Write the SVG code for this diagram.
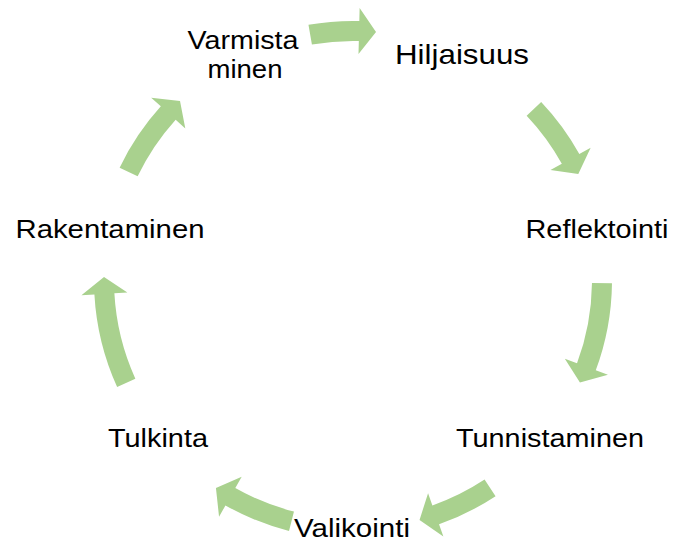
<svg xmlns="http://www.w3.org/2000/svg" width="673" height="542" viewBox="0 0 673 542">
<style>
.lbl{font-family:"Liberation Sans",Arial,sans-serif;font-size:26px;fill:#000;text-anchor:middle}
.arr{fill:#A9D18E;stroke:none}
</style>
<rect width="673" height="542" fill="#fff"/>
<g id="connectors">
<path class="arr" transform="translate(353,280) rotate(-9.9)" d="M0,-259 A259,259 0 0 1 50.74,-253.98 L53.28,-266.72 L65.29,-240.29 L44.27,-221.62 L46.82,-234.36 A239,239 0 0 0 0,-239 Z"/>
<path class="arr" transform="translate(353,280) rotate(46.6)" d="M0,-259 A259,259 0 0 1 63.97,-250.97 L67.18,-263.57 L77.76,-236.55 L55.82,-218.99 L59.03,-231.59 A239,239 0 0 0 0,-239 Z"/>
<path class="arr" transform="translate(353,280) rotate(90.7)" d="M0,-259 A259,259 0 0 1 87.31,-243.85 L91.69,-256.09 L99.67,-228.18 L76.18,-212.78 L80.57,-225.02 A239,239 0 0 0 0,-239 Z"/>
<path class="arr" transform="translate(353,280) rotate(146.6)" d="M0,-259 A259,259 0 0 1 62.65,-251.31 L65.80,-263.92 L76.54,-236.95 L54.67,-219.29 L57.81,-231.90 A239,239 0 0 0 0,-239 Z"/>
<path class="arr" transform="translate(353,280) rotate(194.3)" d="M0,-259 A259,259 0 0 1 67.91,-249.94 L71.32,-262.48 L81.47,-235.31 L59.26,-218.09 L62.67,-230.64 A239,239 0 0 0 0,-239 Z"/>
<path class="arr" transform="translate(353,280) rotate(245.6)" d="M0,-259 A259,259 0 0 1 93.65,-241.47 L98.36,-253.59 L105.63,-225.49 L81.72,-210.70 L86.42,-222.82 A239,239 0 0 0 0,-239 Z"/>
<path class="arr" transform="translate(353,280) rotate(295.7)" d="M0,-259 A259,259 0 0 1 73.12,-248.46 L76.79,-260.93 L86.38,-233.54 L63.80,-216.80 L67.47,-229.27 A239,239 0 0 0 0,-239 Z"/>
</g>
<g id="node-hiljaisuus"><text class="lbl" x="462" y="64" style="font-size:28px" textLength="134" lengthAdjust="spacingAndGlyphs">Hiljaisuus</text></g>
<g id="node-reflektointi"><text class="lbl" x="597" y="238" textLength="143" lengthAdjust="spacingAndGlyphs">Reflektointi</text></g>
<g id="node-tunnistaminen"><text class="lbl" x="550" y="447" textLength="188" lengthAdjust="spacingAndGlyphs">Tunnistaminen</text></g>
<g id="node-valikointi"><text class="lbl" x="352" y="537" textLength="116" lengthAdjust="spacingAndGlyphs">Valikointi</text></g>
<g id="node-tulkinta"><text class="lbl" x="158" y="447" textLength="100" lengthAdjust="spacingAndGlyphs">Tulkinta</text></g>
<g id="node-rakentaminen"><text class="lbl" x="110" y="238" textLength="189" lengthAdjust="spacingAndGlyphs">Rakentaminen</text></g>
<g id="node-varmistaminen"><text class="lbl" style="font-size:25px" x="243" y="49"><tspan x="243" y="49" textLength="111" lengthAdjust="spacingAndGlyphs">Varmista</tspan><tspan x="245" y="78" textLength="75" lengthAdjust="spacingAndGlyphs">minen</tspan></text></g>
</svg>
